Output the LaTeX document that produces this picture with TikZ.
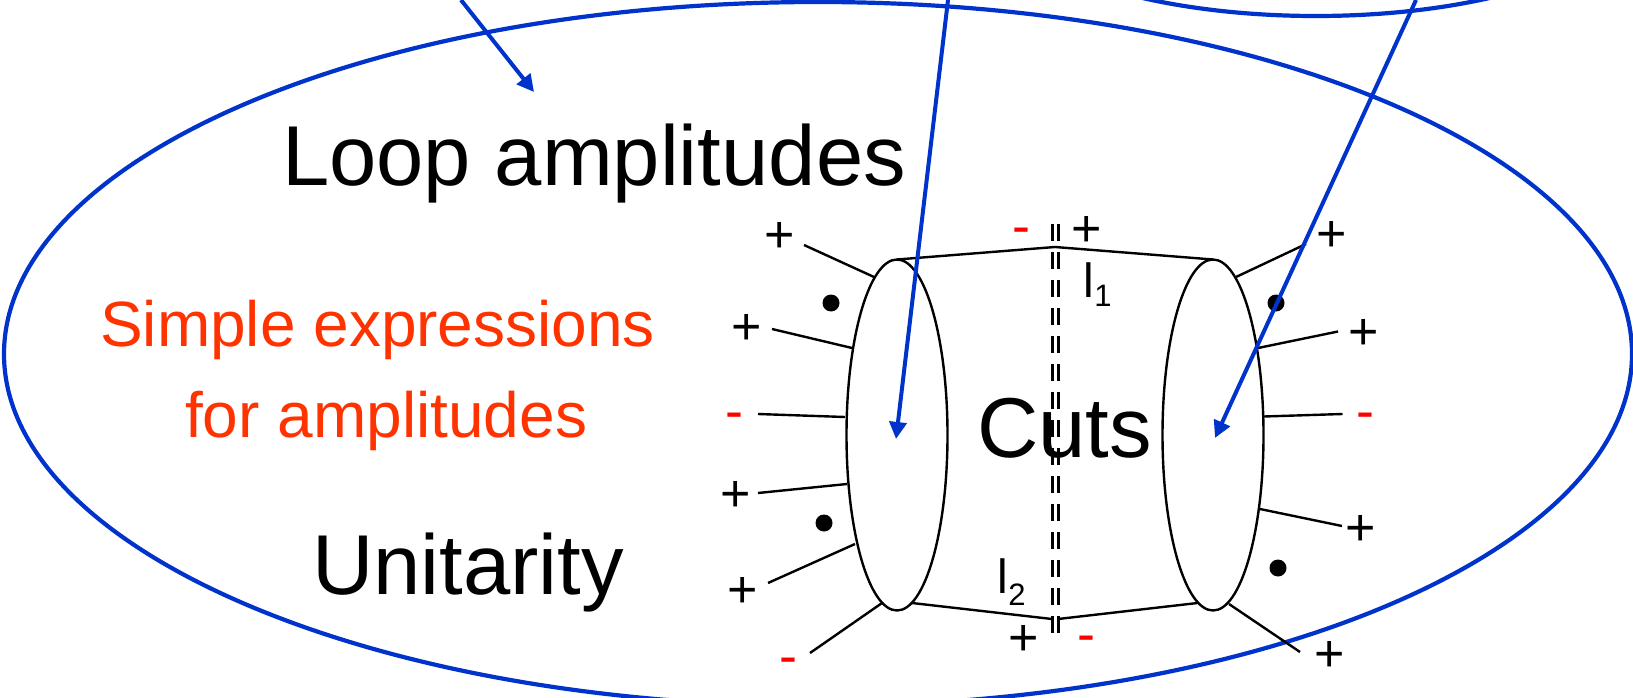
\documentclass[tikz,border=0pt]{standalone}
\usepackage{fontspec}
\setmainfont{Liberation Sans}
\usetikzlibrary{shapes.geometric,arrows.meta}
\definecolor{rimblue}{HTML}{0033CC}
\definecolor{orangered}{HTML}{FF3300}
\tikzset{
  rim/.style={draw=rimblue,line width=4.2pt,ellipse,inner sep=0pt,outer sep=0pt},
  blob/.style={draw=black,line width=2.4pt,fill=white,ellipse,inner sep=0pt,outer sep=0pt,minimum width=101pt,minimum height=351pt},
  bluearrow/.style={draw=rimblue,line width=4pt,-{Triangle[length=17pt,width=17pt]}},
  wire/.style={draw=black,line width=2.4pt},
  cutline/.style={draw=black,line width=3pt,dash pattern=on 17pt off 11pt},
  bigtext/.style={font=\fontsize{85}{85}\selectfont,text=black,inner sep=0pt,anchor=base west},
  redtext/.style={font=\fontsize{64}{64}\selectfont,text=orangered,inner sep=0pt,anchor=base west},
  plus/.style={font=\fontsize{52}{52}\selectfont,text=black,inner sep=0pt},
  minus/.style={font=\fontsize{54}{54}\selectfont,text=red,inner sep=0pt},
  spot/.style={circle,fill=black,inner sep=0pt,minimum size=17pt},
  loopl/.style={font=\fontsize{48}{48}\selectfont,text=black,inner sep=0pt,anchor=base west}
}
\begin{document}
\begin{tikzpicture}[x=1pt,y=-1pt]
\useasboundingbox (0,0) rectangle (1633,698);
\fill[white] (0,0) rectangle (1633,698);
\clip (0,0) rectangle (1633,698);
% rims
\node[rim,minimum width=1628pt,minimum height=704pt] (rimA) at (818,354) {};
\node[rim,minimum width=648pt,minimum height=232pt] (rimB) at (1316,-100) {};
% free-end coordinates of the connectors
\coordinate (cutTopA) at (1052,224);
\coordinate (cutBotA) at (1052,642);
\coordinate (cutTopB) at (1058,224);
\coordinate (cutBotB) at (1058,642);
\draw[cutline] (cutTopA) -- (cutBotA);
\draw[cutline] (cutTopB) -- (cutBotB);
% blobs
\node[blob] (blobL) at (897,435) {};
\node[blob] (blobR) at (1213,435) {};
% propagators
\coordinate (topMid) at (1055,247);
\coordinate (botMidL) at (1052,619);
\coordinate (botMidR) at (1058,619);
\draw[wire] (blobL.north) -- (topMid) -- (blobR.north);
\coordinate (bl) at (912,603);
\coordinate (br) at (1197.5,603);
\draw[wire] (bl) -- (botMidL);
\draw[wire] (botMidR) -- (br);
% left legs
\coordinate (la1) at (804,245); \coordinate (lb1) at (874,277);
\coordinate (la2) at (772,329); \coordinate (lb2) at (852,348);
\coordinate (la3) at (758,414); \coordinate (lb3) at (845,417);
\coordinate (la4) at (758,493); \coordinate (lb4) at (847,484);
\coordinate (la5) at (768,583); \coordinate (lb5) at (855,544);
\coordinate (la6) at (810,653); \coordinate (lb6) at (882,603);
\foreach \i in {1,...,6} \draw[wire] (la\i) -- (lb\i);
% right legs
\coordinate (ra1) at (1306,244); \coordinate (rb1) at (1236,277);
\coordinate (ra2) at (1338,331.5); \coordinate (rb2) at (1258,348);
\coordinate (ra3) at (1342.5,414); \coordinate (rb3) at (1264,416.5);
\coordinate (ra4) at (1342,526); \coordinate (rb4) at (1260,509);
\coordinate (ra5) at (1300,652); \coordinate (rb5) at (1229,604);
\foreach \i in {1,...,5} \draw[wire] (ra\i) -- (rb\i);
% helicity labels
\node[plus] (p1) at (780,237) {+};
\node[plus] (p2) at (747,329) {+};
\node[minus] (m1) at (734,421) {-};
\node[plus] (p3) at (736,496) {+};
\node[plus] (p4) at (743,592) {+};
\node[minus] (m2) at (788,666) {-};
\node[minus] (m3) at (1021,236) {-};
\node[plus] (p5) at (1087,231) {+};
\node[plus] (p6) at (1024,640) {+};
\node[minus] (m4) at (1086,644) {-};
\node[plus] (p7) at (1332,236) {+};
\node[plus] (p8) at (1364,334) {+};
\node[minus] (m5) at (1365,421) {-};
\node[plus] (p9) at (1361,530) {+};
\node[plus] (p10) at (1330,656) {+};
% dots
\node[spot] (d1) at (831,303) {};
\node[spot] (d2) at (824,523) {};
\node[spot] (d3) at (1276,303) {};
\node[spot] (d4) at (1278,568) {};
% loop-momentum labels
\node[loopl] (l1) at (1083.5,297) {l\raisebox{-9pt}{\fontsize{31}{31}\selectfont 1}};
\node[loopl] (l2) at (997.5,593) {l\raisebox{-12pt}{\fontsize{31}{31}\selectfont 2}};
% texts
\node[bigtext] (loopamp) at (282,185) {Loop amplitudes};
\node[bigtext] (unit) at (312,594) {Unitarity};
\node[bigtext] (cuts) at (977,457) {Cuts};
\node[redtext] (simple) at (100,346) {Simple expressions};
\node[redtext] (forampl) at (185,437) {for amplitudes};
% arrows
\coordinate (a1s) at (461,0); \coordinate (a1e) at (534,92);
\coordinate (a2s) at (948,0); \coordinate (a2e) at (896,439);
\coordinate (a3s) at (1416,0); \coordinate (a3e) at (1215,438);
\draw[bluearrow] (a1s) -- (a1e);
\draw[bluearrow] (a2s) -- (a2e);
\draw[bluearrow] (a3s) -- (a3e);
\end{tikzpicture}
\end{document}
